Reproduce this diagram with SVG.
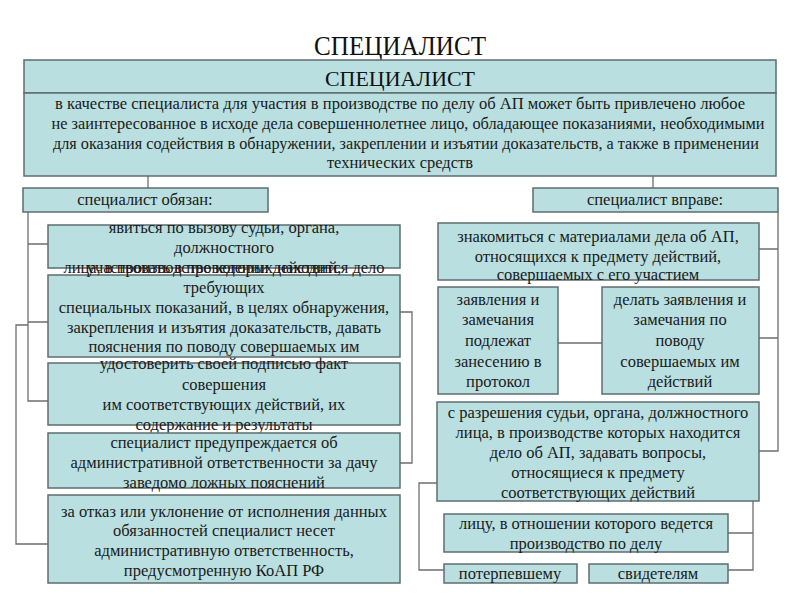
<svg xmlns="http://www.w3.org/2000/svg" width="800" height="600" viewBox="0 0 800 600">
<style>
.box{fill:#b9dfe1;stroke:#5f6d6f;stroke-width:1.5}
.t{font-family:'Liberation Serif',serif;font-size:16.5px;fill:#1a1a1a;text-anchor:middle}
.h{font-family:'Liberation Serif',serif;fill:#111;text-anchor:middle}
.c{fill:none;stroke:#6e6e6e;stroke-width:1.3}
</style>
<rect width="800" height="600" fill="#ffffff"/>
<text class="h" x="400" y="55" font-size="27" textLength="172" lengthAdjust="spacingAndGlyphs">СПЕЦИАЛИСТ</text>

<g id="connectors">
<path class="c" d="M148 176V188M653 176V188"/>
<path class="c" d="M28 212V401H48M28 244H48M28 322H48"/>
<path class="c" d="M28 325H16V544H48"/>
<path class="c" d="M400 312H412V463H400"/>
<path class="c" d="M778 212V451H759M759 249H778M759 338H778"/>
<path class="c" d="M558 343H602"/>
<path class="c" d="M753 501V570H728M728 533H753"/>
<path class="c" d="M437 483H419V570H444"/>
</g>

<g id="top">
<rect class="box" x="24" y="60" width="752" height="33"/>
<text class="h" x="400" y="86" font-size="21" textLength="150" lengthAdjust="spacingAndGlyphs">СПЕЦИАЛИСТ</text>
</g>
<g id="def">
<rect class="box" x="24" y="93" width="752" height="83"/>
<text class="t" x="400" y="109" textLength="690" lengthAdjust="spacingAndGlyphs">в качестве специалиста для участия в производстве по делу об АП может быть привлечено любое</text>
<text class="t" x="408" y="129" textLength="713" lengthAdjust="spacingAndGlyphs">не заинтересованное в исходе дела совершеннолетнее лицо, обладающее показаниями, необходимыми</text>
<text class="t" x="406" y="149" textLength="706" lengthAdjust="spacingAndGlyphs">для оказания содействия в обнаружении, закреплении и изъятии доказательств, а также в применении</text>
<text class="t" x="400" y="168">технических средств</text>
</g>

<g id="obyazan">
<rect class="box" x="23" y="188" width="245" height="24"/>
<text class="t" x="145" y="205">специалист обязан:</text>
</g>
<g id="vprave">
<rect class="box" x="533" y="188" width="245" height="24"/>
<text class="t" x="655" y="205">специалист вправе:</text>
</g>

<g id="l1">
<rect class="box" x="48" y="225" width="352" height="43"/>
<text class="t" x="224" y="233">явиться по вызову судьи, органа,</text>
<text class="t" x="224" y="253">должностного</text>
</g>
<g id="l2">
<rect class="box" x="48" y="275" width="352" height="82"/>
<text class="t" x="224" y="293">требующих</text>
<text class="t" x="224" y="313">специальных показаний, в целях обнаружения,</text>
<text class="t" x="224" y="333">закрепления и изъятия доказательств, давать</text>
<text class="t" x="224" y="352">пояснения по поводу совершаемых им</text>
</g>
<g id="overlap">
<text class="t" x="224" y="273">лица, в производстве которых находится дело</text>
<text class="t" x="214" y="273">участвовать в проведении действий,</text>
</g>
<g id="l3">
<rect class="box" x="48" y="363" width="352" height="62"/>
<text class="t" x="224" y="369">удостоверить своей подписью факт</text>
<text class="t" x="224" y="390">совершения</text>
<text class="t" x="224" y="410">им соответствующих действий, их</text>
<text class="t" x="224" y="430">содержание и результаты</text>
</g>
<g id="l4">
<rect class="box" x="48" y="433" width="352" height="55"/>
<text class="t" x="224" y="448">специалист предупреждается об</text>
<text class="t" x="224" y="468">административной ответственности за дачу</text>
<text class="t" x="224" y="488">заведомо ложных пояснений</text>
</g>
<g id="l5">
<rect class="box" x="48" y="495" width="352" height="88"/>
<text class="t" x="224" y="517">за отказ или уклонение от исполнения данных</text>
<text class="t" x="224" y="536">обязанностей специалист несет</text>
<text class="t" x="224" y="556">административную ответственность,</text>
<text class="t" x="224" y="576">предусмотренную КоАП РФ</text>
</g>

<g id="r1">
<rect class="box" x="438" y="223" width="321" height="57"/>
<text class="t" x="598" y="242">знакомиться с материалами дела об АП,</text>
<text class="t" x="598" y="262">относящихся к предмету действий,</text>
<text class="t" x="598" y="280">совершаемых с его участием</text>
</g>
<g id="r2">
<rect class="box" x="438" y="287" width="120" height="107"/>
<text class="t" x="498" y="305">заявления и</text>
<text class="t" x="498" y="325">замечания</text>
<text class="t" x="498" y="346">подлежат</text>
<text class="t" x="498" y="367">занесению в</text>
<text class="t" x="498" y="387">протокол</text>
</g>
<g id="r3">
<rect class="box" x="602" y="287" width="157" height="107"/>
<text class="t" x="680" y="305">делать заявления и</text>
<text class="t" x="680" y="325">замечания по</text>
<text class="t" x="680" y="346">поводу</text>
<text class="t" x="680" y="367">совершаемых им</text>
<text class="t" x="680" y="387">действий</text>
</g>
<g id="r4">
<rect class="box" x="437" y="402" width="322" height="99"/>
<text class="t" x="598" y="418">с разрешения судьи, органа, должностного</text>
<text class="t" x="598" y="438">лица, в производстве которых находится</text>
<text class="t" x="598" y="458">дело об АП, задавать вопросы,</text>
<text class="t" x="598" y="478">относящиеся к предмету</text>
<text class="t" x="598" y="498">соответствующих действий</text>
</g>
<g id="r5">
<rect class="box" x="444" y="514" width="284" height="38"/>
<text class="t" x="586" y="529">лицу, в отношении которого ведется</text>
<text class="t" x="586" y="549">производство по делу</text>
</g>
<g id="r6">
<rect class="box" x="444" y="564" width="133" height="19"/>
<text class="t" x="510" y="579">потерпевшему</text>
</g>
<g id="r7">
<rect class="box" x="589" y="564" width="139" height="19"/>
<text class="t" x="658" y="579">свидетелям</text>
</g>
</svg>
